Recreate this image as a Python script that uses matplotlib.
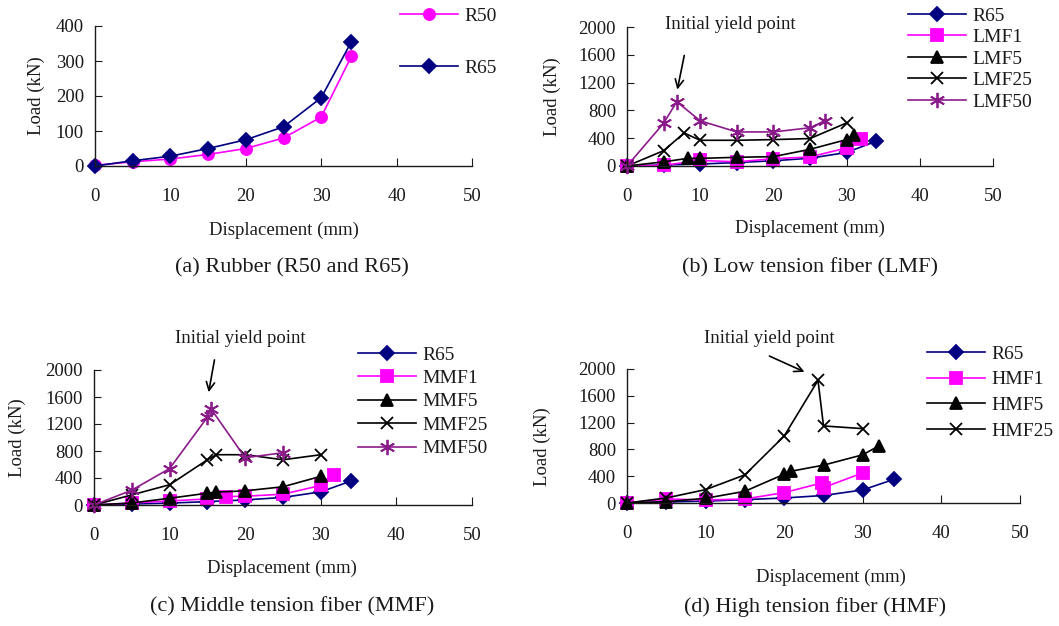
import matplotlib.pyplot as plt

plt.rcParams['font.family'] = ['Liberation Serif', 'DejaVu Serif']

# ---- data (displacement mm, load kN) ----
r65_x = [0, 5, 10, 15, 20, 25, 30, 34]
r65_y = [0, 15, 28, 50, 75, 112, 195, 355]
r50_x = [0, 5, 10, 15, 20, 25, 30, 34]
r50_y = [2, 12, 20, 33, 50, 80, 140, 313]

lmf1_x = [0, 5, 10, 15, 20, 25, 30, 32]
lmf1_y = [0, 10, 80, 60, 105, 130, 260, 390]
lmf5_x = [0, 5, 8.3, 10, 15, 20, 25, 30, 31]
lmf5_y = [0, 60, 110, 110, 125, 135, 240, 380, 450]
lmf25_x = [0, 5, 7.8, 10, 15, 20, 25, 30]
lmf25_y = [0, 220, 475, 370, 370, 380, 395, 620]
lmf50_x = [0, 5, 6.8, 10, 15, 20, 25, 27]
lmf50_y = [0, 615, 925, 650, 490, 490, 550, 650]

mmf1_x = [0, 5, 10, 15, 17.5, 20, 25, 30, 31.8]
mmf1_y = [0, 30, 60, 90, 125, 130, 160, 290, 440]
mmf5_x = [0, 5, 10, 15, 16.2, 20, 25, 30]
mmf5_y = [0, 30, 100, 175, 190, 210, 270, 425]
mmf25_x = [0, 5, 10, 15, 16.2, 20, 25, 30]
mmf25_y = [0, 150, 300, 670, 745, 745, 670, 745]
mmf50_x = [0, 5, 10, 15, 15.5, 20, 25]
mmf50_y = [0, 220, 540, 1300, 1420, 700, 775]

hmf1_x = [0, 5, 10, 15, 20, 24.8, 25, 30]
hmf1_y = [0, 60, 45, 60, 155, 300, 230, 450]
hmf5_x = [0, 5, 10, 15, 20, 20.9, 25, 30, 32]
hmf5_y = [0, 20, 70, 175, 430, 475, 565, 720, 850]
hmf25_x = [0, 5, 10, 15, 20, 24.3, 25, 30]
hmf25_y = [0, 75, 200, 420, 1000, 1830, 1150, 1110]

captions = ['(a) Rubber (R50 and R65)', '(b) Low tension fiber (LMF)',
            '(c) Middle tension fiber (MMF)', '(d) High tension fiber (HMF)']

navy = '#000080'
pink = '#FF00FF'
purple = '#8B1A8B'
txt = '#1a1a1a'
asterisk = (6, 2, 0)
fs = 13.5

fig = plt.figure(figsize=(10.59, 6.26), dpi=100)
W, H = 1059, 626


def make_axes(l, r, b, t):
    return fig.add_axes([l / W, 1 - b / H, (r - l) / W, (b - t) / H])


axa = make_axes(95, 472, 166, 26)
axb = make_axes(627, 993, 166, 27)
axc = make_axes(94, 472, 505, 370)
axd = make_axes(627, 1020, 503, 369)


def style(ax, ymax, ystep):
    ax.set_xlim(0, 50)
    ax.set_ylim(0, ymax)
    ax.set_xticks(range(0, 51, 10))
    ax.set_yticks(range(0, ymax + 1, ystep))
    for s in ['top', 'right']:
        ax.spines[s].set_visible(False)
    for s in ['left', 'bottom']:
        ax.spines[s].set_color(txt)
        ax.spines[s].set_linewidth(1.0)
    ax.tick_params(axis='x', direction='in', length=6, pad=16, labelsize=fs, colors=txt)
    ax.tick_params(axis='y', direction='in', length=5, pad=8, labelsize=fs, colors=txt)
    ax.set_xlabel('Displacement (mm)', fontsize=fs, color=txt)
    ax.set_ylabel('Load (kN)', fontsize=fs, color=txt)


def line(ax, x, y, c, m, ms, label, mfc=None):
    ax.plot(x, y, color=c, lw=1.2, marker=m, ms=ms, mfc=mfc or c, mec=c,
            mew=1.3, label=label, clip_on=False)


def r65(ax):
    line(ax, r65_x, r65_y, navy, 'D', 7, 'R65')


# (a)
line(axa, r50_x, r50_y, pink, 'o', 8, 'R50')
r65(axa)
style(axa, 400, 100)

# (b)
r65(axb)
line(axb, lmf1_x, lmf1_y, pink, 's', 8, 'LMF1')
line(axb, lmf5_x, lmf5_y, 'black', '^', 8, 'LMF5')
line(axb, lmf25_x, lmf25_y, 'black', 'x', 9, 'LMF25')
line(axb, lmf50_x, lmf50_y, purple, asterisk, 11, 'LMF50')
style(axb, 2000, 400)

# (c)
r65(axc)
line(axc, mmf1_x, mmf1_y, pink, 's', 8, 'MMF1')
line(axc, mmf5_x, mmf5_y, 'black', '^', 8, 'MMF5')
line(axc, mmf25_x, mmf25_y, 'black', 'x', 9, 'MMF25')
line(axc, mmf50_x, mmf50_y, purple, asterisk, 11, 'MMF50')
style(axc, 2000, 400)

# (d)
r65(axd)
line(axd, hmf1_x, hmf1_y, pink, 's', 8, 'HMF1')
line(axd, hmf5_x, hmf5_y, 'black', '^', 8, 'HMF5')
line(axd, hmf25_x, hmf25_y, 'black', 'x', 9, 'HMF25')
style(axd, 2000, 400)

# label positions
axa.yaxis.set_label_coords(-0.133, 0.5)
axb.yaxis.set_label_coords(-0.18, 0.5)
axc.yaxis.set_label_coords(-0.18, 0.5)
axd.yaxis.set_label_coords(-0.193, 0.42)
axa.xaxis.set_label_coords(0.5, -0.40)
axb.xaxis.set_label_coords(0.5, -0.386)
axc.xaxis.set_label_coords(0.497, -0.407)
axd.xaxis.set_label_coords(0.52, -0.49)

# legends: (axes, left px, top px, labelspacing)
leg_pos = [(axa, 400, 7, 1.8), (axb, 908, 7, 0.2), (axc, 358, 346, 0.3), (axd, 927, 345, 0.42)]
for ax, lx, ly, sp in leg_pos:
    handles, labels = ax.get_legend_handles_labels()
    fig.legend(handles, labels, loc='upper left', bbox_to_anchor=(lx / W, 1 - ly / H),
               frameon=False, borderpad=0, borderaxespad=0, handlelength=3.0,
               handletextpad=0.3, labelspacing=sp, fontsize=14, labelcolor=txt)

# annotations
arrow = dict(arrowstyle='->', color='black', lw=1.2, mutation_scale=15)
axb.annotate('', xy=(6.8, 1060), xytext=(7.9, 1630), arrowprops=arrow, annotation_clip=False)
axb.text(14.1, 2030, 'Initial yield point', ha='center', va='center', fontsize=fs, color=txt)
axc.annotate('', xy=(15.1, 1630), xytext=(16.0, 2190), arrowprops=arrow, annotation_clip=False)
axc.text(19.4, 2460, 'Initial yield point', ha='center', va='center', fontsize=fs, color=txt)
axd.annotate('', xy=(22.9, 1940), xytext=(17.8, 2210), arrowprops=arrow, annotation_clip=False)
axd.text(18.1, 2450, 'Initial yield point', ha='center', va='center', fontsize=fs, color=txt)

# captions
for (cx, cy), cap in zip([(292, 268), (810, 268), (292, 607), (815, 607)], captions):
    fig.text(cx / W, 1 - cy / H, cap, ha='center', va='center', fontsize=16, color=txt)

fig.savefig('out.png', dpi=100)
